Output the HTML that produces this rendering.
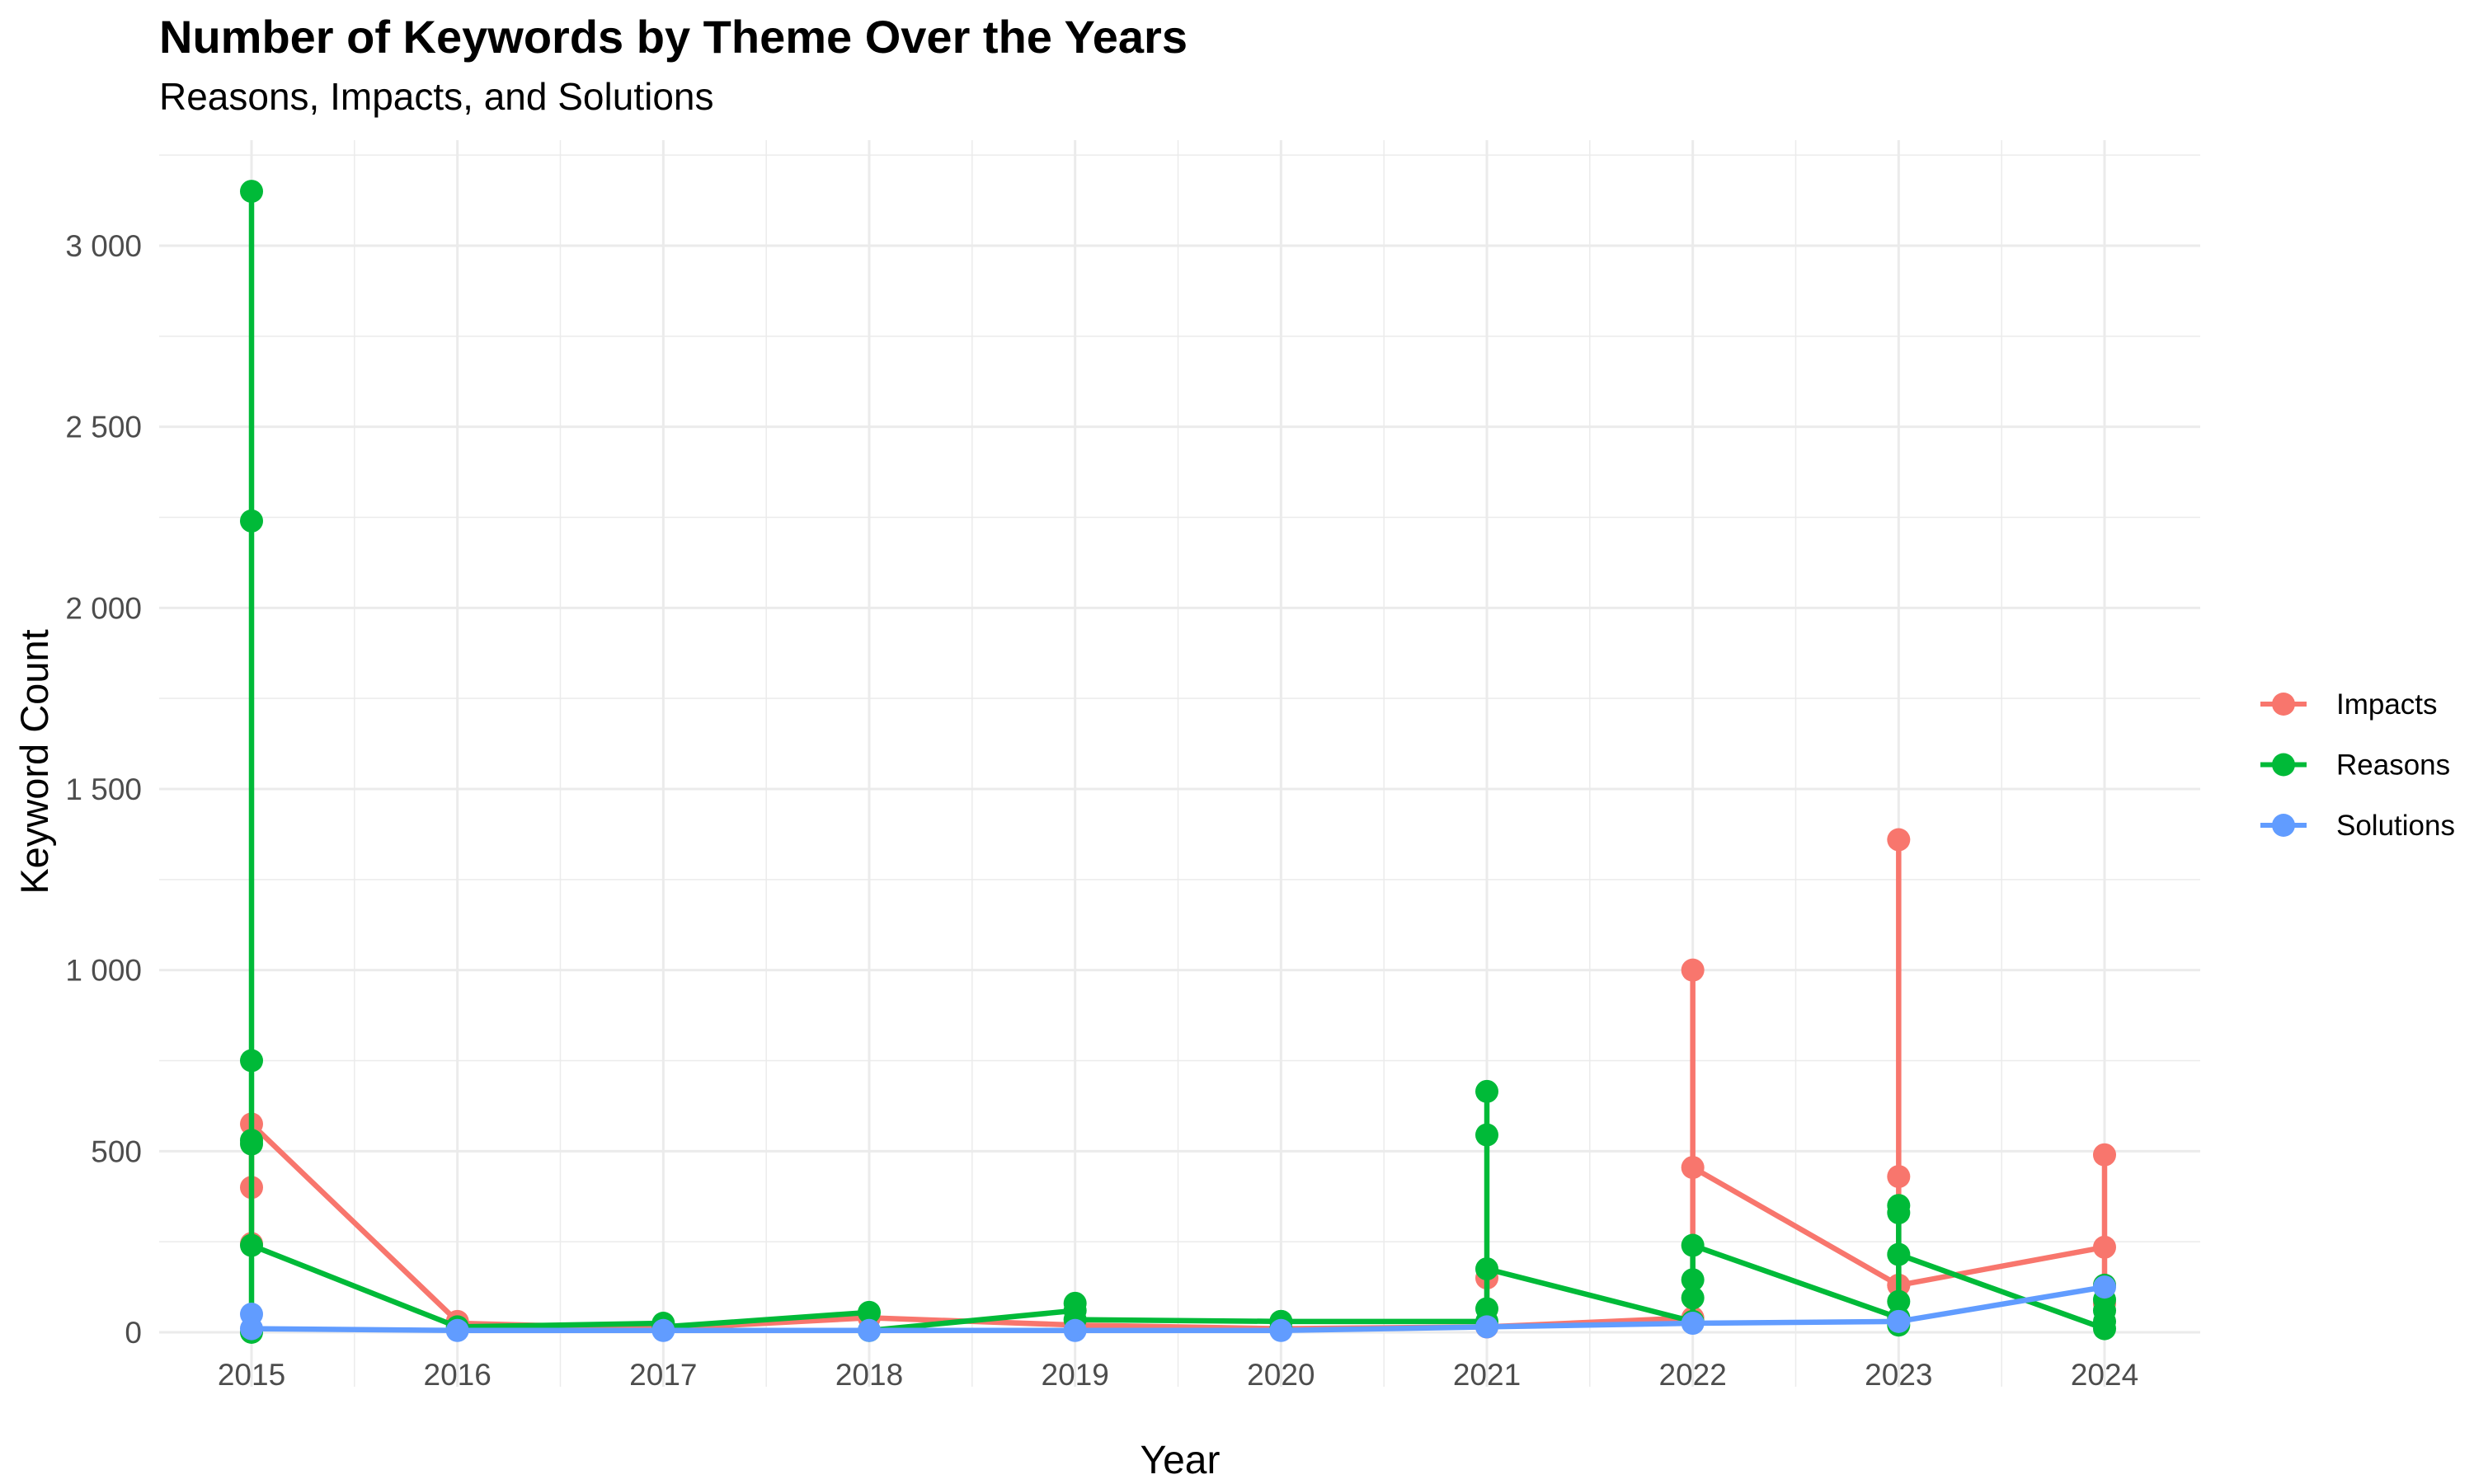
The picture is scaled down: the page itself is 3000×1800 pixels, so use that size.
<!DOCTYPE html>
<html><head><meta charset="utf-8"><style>
html,body{margin:0;padding:0;background:#fff;}
svg{display:block;font-family:"Liberation Sans",Arial,sans-serif;}
</style></head><body>
<svg id="chart" width="3000" height="1800" viewBox="0 0 3000 1800">
<rect width="3000" height="1800" fill="#fff"/>
<text x="193" y="64" font-size="56" font-weight="bold" fill="#000">Number of Keywords by Theme Over the Years</text>
<text x="193" y="133" font-size="46" fill="#000">Reasons, Impacts, and Solutions</text>
<g id="grid"></g>
<g id="yticks"></g>
<g id="xticks"></g>
<g id="series"></g>
<text x="1431" y="1787" font-size="48" text-anchor="middle" fill="#000">Year</text>
<text transform="translate(58,924) rotate(-90)" font-size="47" text-anchor="middle" fill="#000">Keyword Count</text>
<g id="legend"></g>
</svg>
<script>
const years = [2015,2016,2017,2018,2019,2020,2021,2022,2023,2024];
const yTicks = [0,500,1000,1500,2000,2500,3000];
const yTickLabels = ["0","500","1 000","1 500","2 000","2 500","3 000"];
const seriesNames = ["Impacts","Reasons","Solutions"];
const impacts = [[245,400,575],[30,25],[10],[40],[20],[10],[15,150,15],[40,1000,455],[130,1360,430,130],[235,490,130,80]];
const reasons = [[0,3150,2240,750,530,520,240],[15],[25,15],[55,5],[60,80,35],[30,10,30],[30,665,545,65,175],[30,95,145,240],[40,20,85,330,350,215],[10,30,60,90,130]];
const solutions = [[50,10],[5],[5],[5],[5],[5],[15],[25],[30],[125]];
const colors = ["#F8766D","#00BA38","#619CFF"];

const NS="http://www.w3.org/2000/svg";
const PL=193,PR=2668,PT=170,PB=1682;
const X0=305,X1=2552;
function xs(yr){return X0+(yr-years[0])*(X1-X0)/(years[years.length-1]-years[0]);}
function ys(v){return 1616-v*(1616-298)/3000;}
function mk(tag,attrs,parent){const e=document.createElementNS(NS,tag);for(const k in attrs)e.setAttribute(k,attrs[k]);parent.appendChild(e);return e;}
const grid=document.getElementById('grid');
for(let i=0;i<years.length+1;i++){const x=xs(years[0]-0.5+i);if(x>PL&&x<PR){const l=mk('line',{x1:x,x2:x,y1:PT,y2:PB,stroke:'#ebebeb','stroke-width':1.5},grid);

}}
for(let v=-250;v<=3250;v+=500){const y=ys(v);if(y>PT&&y<PB){const l=mk('line',{x1:PL,x2:PR,y1:y,y2:y,stroke:'#ebebeb','stroke-width':1.5},grid);

}}
years.forEach(yr=>{const l=mk('line',{x1:xs(yr),x2:xs(yr),y1:PT,y2:PB,stroke:'#ebebeb','stroke-width':3},grid);

});
yTicks.forEach(v=>{const l=mk('line',{x1:PL,x2:PR,y1:ys(v),y2:ys(v),stroke:'#ebebeb','stroke-width':3},grid);

});
const yt=document.getElementById('yticks');
yTicks.forEach((v,i)=>{const t=mk('text',{x:172,y:ys(v)+13,'font-size':37,'text-anchor':'end',fill:'#4d4d4d'},yt);t.textContent=yTickLabels[i];

});
const xt=document.getElementById('xticks');
years.forEach(yr=>{const t=mk('text',{x:xs(yr),y:1680,'font-size':37,'text-anchor':'middle',fill:'#4d4d4d'},xt);t.textContent=yr;

});
const sg=document.getElementById('series');
[impacts,reasons,solutions].forEach((data,si)=>{
  const g=mk('g',{},sg);
  
  
  const pts=[];data.forEach((arr,yi)=>arr.forEach(v=>pts.push([xs(years[yi]),ys(v)])));
  const p=mk('polyline',{points:pts.map(q=>q.join(',')).join(' '),fill:'none',stroke:colors[si],'stroke-width':6.5,'stroke-linejoin':'round'},g);
  
  
  pts.forEach(q=>{const c=mk('circle',{cx:q[0],cy:q[1],r:14,fill:colors[si]},g);
  
  });
});
const lg=document.getElementById('legend');
seriesNames.forEach((n,i)=>{const y=854+i*73.5;const g=mk('g',{},lg);


mk('line',{x1:2741,x2:2797,y1:y,y2:y,stroke:colors[i],'stroke-width':6},g);
mk('circle',{cx:2769,cy:y,r:14,fill:colors[i]},g);
const t=mk('text',{x:2833,y:y+12,'font-size':35,fill:'#000'},g);t.textContent=n;});
</script>
</body></html>
